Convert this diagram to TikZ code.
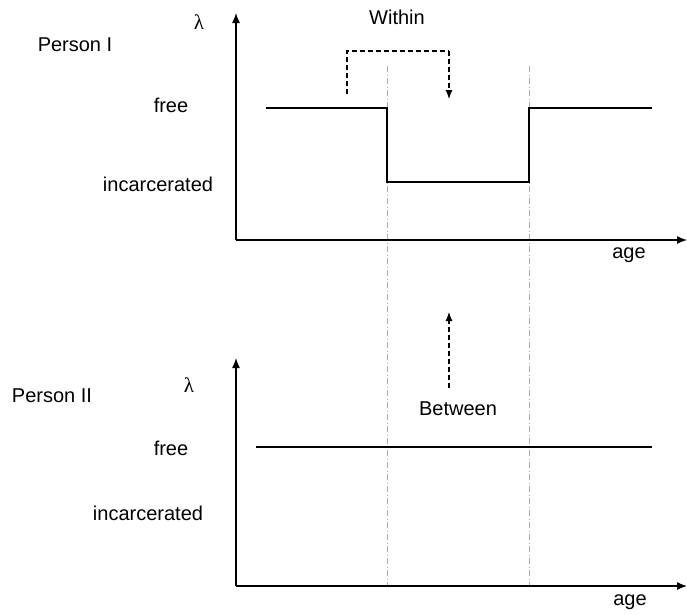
\documentclass[tikz,border=0pt]{standalone}
\usepackage{fontspec}
\setmainfont{Liberation Sans}
\newfontfamily\lamfont{Liberation Serif}
\usetikzlibrary{arrows.meta}
\begin{document}
\begin{tikzpicture}[x=1pt,y=-1pt,
  lbl/.style={font=\fontsize{20}{23}\selectfont, inner sep=0pt},
  lam/.style={font=\lamfont\fontsize{21}{23}\selectfont, inner sep=0pt},
  axis/.style={line width=1.3pt, -{Latex[length=10pt,width=8pt]}},
  stepline/.style={line width=1.1pt},
  guide/.style={line width=1pt, gray!65, dash pattern=on 6pt off 2.5pt on 1pt off 2.5pt},
  dasharrow/.style={line width=1.1pt, dash pattern=on 5pt off 3pt, -{Latex[length=9pt,width=7pt]}},
  dashplain/.style={line width=1.1pt, dash pattern=on 5pt off 3pt}]
\useasboundingbox (0,0) rectangle (687,614);
% ---- coordinates
\coordinate (O1) at (236,240);
\coordinate (Y1) at (236,13);
\coordinate (X1) at (687,240);
\coordinate (O2) at (236,586);
\coordinate (Y2) at (236,358);
\coordinate (X2) at (687,586);
\coordinate (G1t) at (387,66);
\coordinate (G1b) at (387,587);
\coordinate (G2t) at (529,66);
\coordinate (G2b) at (529,587);
\coordinate (S0) at (266,108);
\coordinate (S1) at (387,108);
\coordinate (S2) at (387,182);
\coordinate (S3) at (529,182);
\coordinate (S4) at (529,108);
\coordinate (S5) at (652,108);
\coordinate (F0) at (256,447);
\coordinate (F1) at (652,447);
\coordinate (W0) at (347,94);
\coordinate (W1) at (347,51);
\coordinate (W2) at (449,51);
\coordinate (W3) at (449,99);
\coordinate (B0) at (449,388);
\coordinate (B1) at (449,312);
% ---- guides
\draw[guide] (G1t) -- (G1b);
\draw[guide] (G2t) -- (G2b);
% ---- axes
\draw[axis] (O1) -- (Y1);
\draw[axis] (O1) -- (X1);
\draw[axis] (O2) -- (Y2);
\draw[axis] (O2) -- (X2);
% ---- step functions
\draw[stepline] (S0) -- (S1) -- (S2) -- (S3) -- (S4) -- (S5);
\draw[stepline] (F0) -- (F1);
% ---- dashed arrows
\draw[dashplain] (W0) -- (W1) -- (W2);
\draw[dasharrow] (W2) -- (W3);
\draw[dasharrow] (B0) -- (B1);
% ---- labels
\node[lbl] (within) at (397,17) {Within};
\node[lam] (lam1) at (199,22) {λ};
\node[lbl] (p1) at (75,45) {Person I};
\node[lbl] (free1) at (171,105) {free};
\node[lbl] (inc1) at (158,184) {incarcerated};
\node[lbl] (age1) at (629,255) {age};
\node[lam] (lam2) at (189,385) {λ};
\node[lbl] (p2) at (52,396) {Person II};
\node[lbl] (free2) at (171,448) {free};
\node[lbl] (inc2) at (148,513) {incarcerated};
\node[lbl] (between) at (458,409) {Between};
\node[lbl] (age2) at (630,602) {age};
\end{tikzpicture}
\end{document}
